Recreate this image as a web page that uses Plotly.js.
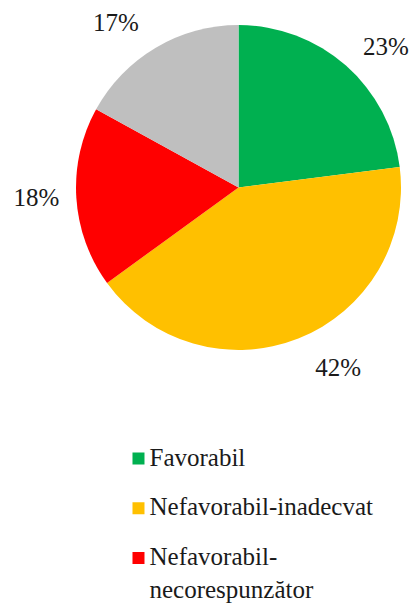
<!DOCTYPE html>
<html><head><meta charset="utf-8">
<script src="https://cdn.plot.ly/plotly-3.0.1.min.js"></script>
<style>
html,body{margin:0;padding:0;background:#fff;overflow:hidden;}
#chart{width:412px;height:605px;}
#warm{position:absolute;left:0;top:0;font-family:"Liberation Serif",serif;font-size:2px;color:transparent;margin:0;}
.modebar-container{display:none !important;}
.legendtext{font-size:25px !important; transform:translate(-9px,-7px);}
</style></head><body><div id="chart"></div><pre id="warm"></pre>
<script>
const labels = ['Favorabil', 'Nefavorabil-inadecvat', 'Nefavorabil-necorespunzător', 'Necunoscut'];
const values = [23, 42, 18, 17];
const colors = ['#00B050', '#FFC000', '#FF0000', '#BFBFBF'];

const serif = 'Liberation Serif';
const shownLabels = labels.map(l => l.length > 22 ? l.replace('-', '-<br>') : l);

const trace = {
  type: 'pie',
  labels: shownLabels,
  values: values,
  sort: false,
  direction: 'clockwise',
  textinfo: 'percent',
  texttemplate: '\u00a0<br><span style="font-size:25px">%{percent}</span><br><span style="font-size:1px">\u00a0</span>',
  textposition: 'outside',
  textfont: {family: serif, size: 19.5, color: '#1a1a1a'},
  marker: {colors: colors},
  domain: {x: [0.1845, 0.9733], y: [0.4215, 0.9587]}
};

const layout = {
  width: 412, height: 605,
  margin: {l: 0, r: 0, t: 0, b: 0, autoexpand: false},
  font: {family: serif},
  legend: {
    x: 0.2876, xanchor: 'left', y: 0.2916, yanchor: 'top',
    font: {family: serif, size: 36, color: '#1a1a1a'},
    valign: 'top'
  }
};

Plotly.newPlot('chart', [trace], layout).then(gd => {
  document.getElementById('warm').textContent = '\u200b';
  return Plotly.restyle(gd, {'textfont.family': serif});
}).then(gd => {
  return Plotly.relayout(gd, {'legend.font.family': serif});
});
</script></body></html>
